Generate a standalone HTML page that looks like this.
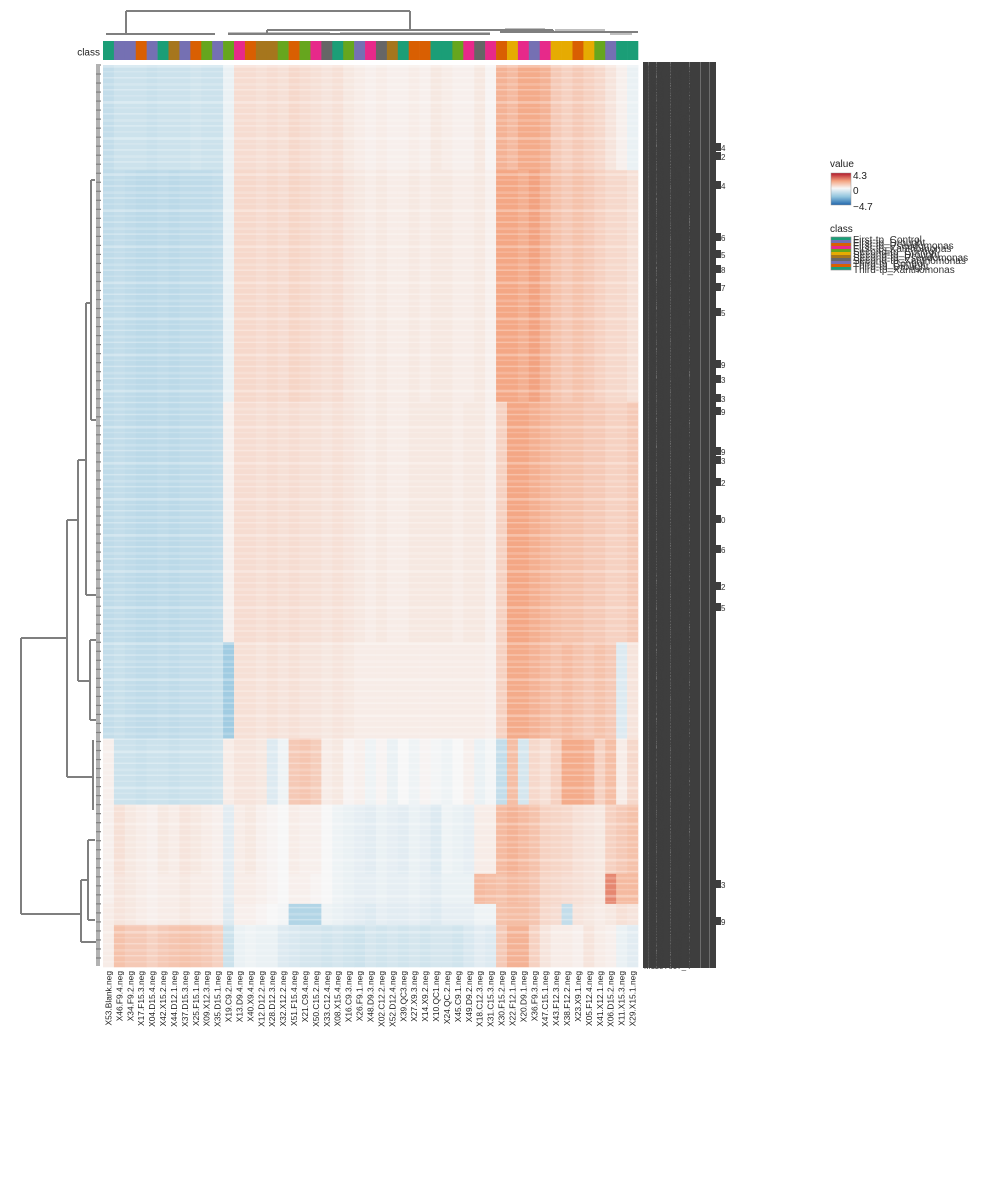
<!DOCTYPE html>
<html><head><meta charset="utf-8">
<style>
html,body{margin:0;padding:0;background:#fff;}
svg{display:block;font-family:"Liberation Sans","DejaVu Sans",sans-serif;}
</style></head>
<body>
<svg id="chart" width="1000" height="1200" viewBox="0 0 1000 1200">
  <g id="coldendro" stroke="#7f7f7f" stroke-width="2" fill="none"></g>
  <g id="rowdendro" stroke="#7f7f7f" stroke-width="2" fill="none"></g>
  <text x="100" y="55.5" font-size="10" text-anchor="end" fill="#222">class</text>
  <g id="classbar"></g>
  <g id="cells"></g>
  <g id="collabels"></g>
  <g id="rowlabels"></g>
  <g id="legend">
    <text x="830" y="167" font-size="10" fill="#222">value</text>
    <defs><linearGradient id="vg" x1="0" y1="0" x2="0" y2="1">
      <stop offset="0" stop-color="#b2182b"/><stop offset="0.25" stop-color="#f4a582"/>
      <stop offset="0.478" stop-color="#f7f7f7"/><stop offset="0.74" stop-color="#92c5de"/>
      <stop offset="1" stop-color="#2166ac"/></linearGradient></defs>
    <rect x="831" y="173" width="20" height="32" fill="url(#vg)" stroke="#999" stroke-width="0.5"/>
    <text x="853" y="179" font-size="10" fill="#222">4.3</text>
    <text x="853" y="194" font-size="10" fill="#222">0</text>
    <text x="853" y="210" font-size="10" fill="#222">−4.7</text>
    <text x="830" y="232" font-size="10" fill="#222">class</text>
    <g id="classlegend"></g>
  </g>
</svg>
<script>
const NS="http://www.w3.org/2000/svg";
// ---- data ----
const columns=["X53.Blank.neg","X46.F9.4.neg","X34.F9.2.neg","X17.F15.3.neg","X04.D15.4.neg","X42.X15.2.neg","X44.D12.1.neg","X37.D15.3.neg","X25.F15.1.neg","X09.X12.3.neg","X35.D15.1.neg","X19.C9.2.neg","X13.D9.4.neg","X40.X9.4.neg","X12.D12.2.neg","X28.D12.3.neg","X32.X12.2.neg","X51.F15.4.neg","X21.C9.4.neg","X50.C15.2.neg","X33.C12.4.neg","X08.X15.4.neg","X16.C9.3.neg","X26.F9.1.neg","X48.D9.3.neg","X02.C12.2.neg","X52.D12.4.neg","X39.QC3.neg","X27.X9.3.neg","X14.X9.2.neg","X10.QC1.neg","X24.QC.2.neg","X45.C9.1.neg","X49.D9.2.neg","X18.C12.3.neg","X31.C15.3.neg","X30.F15.2.neg","X22.F12.1.neg","X20.D9.1.neg","X36.F9.3.neg","X47.C15.1.neg","X43.F12.3.neg","X38.F12.2.neg","X23.X9.1.neg","X05.F12.4.neg","X41.X12.1.neg","X06.D15.2.neg","X11.X15.3.neg","X29.X15.1.neg"];
const classOf=["teal","purple","purple","orange","purple","teal","brown","purple","orange","green","purple","green","pink","orange","brown","brown","green","orange","green","pink","gray","teal","green","purple","pink","gray","brown","teal","orange","orange","teal","teal","green","pink","gray","pink","orange","yellow","pink","purple","pink","yellow","yellow","orange","yellow","green","purple","teal","teal"];
const classNames=["First-tp_Control","First-tp_Drought","First-tp_Pseudomonas","First-tp_Xanthomonas","Second-tp_Control","Second-tp_Drought","Second-tp_Pseudomonas","Second-tp_Xanthomonas","Third-tp_Control","Third-tp_Drought","Third-tp_Xanthomonas"];
const bandRows=[35,77,80,32,22,23,10,7,14];
const band0=[-1.2,-1,-1,-1,-1.1,-1,-1,-1,-0.9,-1,-1,-0.3, 0.7,0.7,0.6,0.7,0.6,0.8,0.7,0.6,0.5,0.6,0.4, 0.3,0.2,0.3,0.2,0.2,0.3,0.2,0.4,0.3,0.2,0.2,0.4,0.1, 1.8,1.6,2.0,2.0,1.8,1.2, 1.0,1.2,1.0,0.8,0.5,0.2,-0.3];
const band1=[-1.3,-1.2,-1.3,-1.4,-1.4,-1.3,-1.4,-1.3,-1.3,-1.3,-1.2,-0.3, 0.8,0.8,0.7,0.8,0.7,0.9,0.8,0.7,0.6,0.7,0.5, 0.4,0.3,0.4,0.3,0.3,0.4,0.3,0.4,0.4,0.3,0.3,0.4,0.2, 2.1,2.1,1.9,2.2,1.8,1.4, 1.2,1.4,1.2,1.0,0.8,0.8,0.6];
const band2=[-1.3,-1.2,-1.3,-1.4,-1.4,-1.3,-1.4,-1.3,-1.3,-1.3,-1.2,0.2, 0.7,0.7,0.6,0.7,0.6,0.7,0.6,0.6,0.5,0.6,0.5, 0.4,0.3,0.4,0.3,0.3,0.4,0.4,0.4,0.4,0.3,0.4,0.4,0.2, 1.0,2.1,2.1,1.9,1.7,1.5, 1.4,1.4,1.2,1.2,1.0,1.0,1.2];
const band3=[-1.2,-1.1,-1.2,-1.3,-1.3,-1.2,-1.3,-1.2,-1.2,-1.2,-1.1,-2.0, 0.6,0.6,0.5,0.6,0.5,0.6,0.5,0.5,0.4,0.5,0.4, 0.3,0.3,0.3,0.3,0.3,0.3,0.3,0.3,0.3,0.3,0.3,0.3,0.2, 1.0,2.0,2.0,1.8,1.6,1.4, 1.6,1.4,1.2,1.4,1.2,-0.6,0.5];
const band4=[0.2,-1.0,-1.0,-1.1,-1.0,-1.0,-1.1,-1.0,-1.0,-1.0,-0.9,0.3, 0.5,0.5,0.4,-0.6,-0.2,1.2,1.3,1.1,0.3,0.4,0.1, 0.2,-0.2,0.1,-0.3,0.0,-0.2,0.1,-0.1,-0.2,0.0,0.2,-0.3,-0.1, -1.2,1.5,-0.8,0.8,0.6,1.0, 2.0,2.0,1.8,1.0,1.5,0.3,0.8];
const band5=[0.2,0.6,0.4,0.3,0.2,0.4,0.3,0.5,0.4,0.3,0.2,-0.5, 0.3,0.4,0.2,0.1,0.0,0.3,0.2,0.2,0.0,-0.2,-0.3, -0.4,-0.5,-0.3,-0.4,-0.5,-0.3,-0.4,-0.6,-0.2,-0.3,-0.4,0.3,0.3, 1.6,1.8,1.6,1.4,1.0,0.9, 0.8,0.6,0.5,0.4,1.0,1.2,1.4];
const band6=[0.2,0.5,0.4,0.3,0.2,0.3,0.3,0.4,0.3,0.3,0.2,-0.5, 0.3,0.3,0.2,0.1,0.0,0.2,0.2,0.1,0.0,-0.2,-0.3, -0.4,-0.4,-0.3,-0.4,-0.4,-0.3,-0.4,-0.5,-0.3,-0.3,-0.3,1.6,1.5, 1.4,1.6,1.5,1.3,0.9,0.8, 0.7,0.6,0.5,0.4,2.6,1.6,1.6];
const band7=[0.3,0.5,0.4,0.3,0.2,0.3,0.3,0.4,0.3,0.3,0.2,-0.6, 0.2,0.2,0.1,0.0,-0.1,-1.6,-1.6,-1.6,-0.2,-0.3,-0.4, -0.5,-0.6,-0.4,-0.5,-0.5,-0.4,-0.5,-0.6,-0.4,-0.4,-0.4,-0.2,-0.2, 1.4,1.5,1.5,1.3,0.8,0.7, -1.2,0.5,0.4,0.3,0.4,0.6,0.5];
const band8=[0.3,1.4,1.2,1.2,1.0,1.2,1.3,1.4,1.3,1.2,1.0,-1.0, -0.3,-0.2,-0.3,-0.3,-0.6,-0.7,-0.8,-0.8,-0.9,-0.8,-0.9, -1.0,-0.8,-0.9,-0.8,-0.9,-0.8,-0.9,-0.8,-0.8,-0.9,-0.7,-0.5,-0.6, 1.2,1.8,1.8,1.0,0.5,0.3, 0.3,0.2,0.5,0.3,0.2,-0.3,-0.5];
const bands=[band0,band1,band2,band3,band4,band5,band6,band7,band8];
const vMin=-4.7, vMax=4.3;
const X0=103, X1=638, Y0=65, Y1=967;
const classColors={teal:"#1b9e77",orange:"#d95f02",purple:"#7570b3",pink:"#e7298a",green:"#66a61e",yellow:"#e6ab02",brown:"#a6761d",gray:"#666666"};
const nCols=columns.length, totalRows=bandRows.reduce((a,b)=>a+b,0);
const cw=(X1-X0)/nCols, rh=(Y1-Y0)/totalRows;
const xPos=i=>X0+i*cw, yPos=r=>Y0+r*rh;
function lerp(a,b,t){return a.map((v,i)=>Math.round(v+(b[i]-v)*t));}
function colorOf(v){
  const W=[247,247,247];
  if(v>=0){const t=Math.min(v/vMax,1);return t<0.5?lerp(W,[244,165,130],t/0.5):lerp([244,165,130],[178,24,43],(t-0.5)/0.5);}
  const t=Math.min(-v/(-vMin),1);return t<0.5?lerp(W,[146,197,222],t/0.5):lerp([146,197,222],[33,102,172],(t-0.5)/0.5);
}
const rgb=c=>`rgb(${c[0]},${c[1]},${c[2]})`;
function mk(tag,attrs,parent){const e=document.createElementNS(NS,tag);for(const k in attrs)e.setAttribute(k,attrs[k]);parent.appendChild(e);return e;}
const cells=document.getElementById("cells");
let r0=0;
bands.forEach((vals,b)=>{
  vals.forEach((v,c)=>{
    const el=mk("rect",{x:xPos(c).toFixed(2),y:yPos(r0).toFixed(2),width:(cw+0.3).toFixed(2),height:(bandRows[b]*rh+0.3).toFixed(2),fill:rgb(colorOf(v))},cells);
    
    
  });
  r0+=bandRows[b];
});
for(let r=0;r<totalRows;r+=2){
  const el=mk("rect",{x:X0,y:yPos(r).toFixed(2),width:X1-X0,height:(rh*(r%6===0?0.9:0.5)).toFixed(2),fill:"#ffffff",opacity:(r%4===0?"0.3":"0.18")},cells);
  
  
}
const cb=document.getElementById("classbar");
classOf.forEach((k,i)=>{
  const el=mk("rect",{x:xPos(i).toFixed(2),y:41,width:(cw+0.3).toFixed(2),height:19,fill:classColors[k]},cb);
  
  
});
const cl=document.getElementById("collabels");
columns.forEach((n,i)=>{
  const x=xPos(i)+cw/2+3;
  const el=mk("text",{x:0,y:0,"font-size":"8.4","text-anchor":"end",fill:"#222",transform:`translate(${x.toFixed(1)},971) rotate(-90)`},cl);
  el.textContent=n;
  
  
});
const rl=document.getElementById("rowlabels");
mk("rect",{x:643,y:62,width:73,height:906,fill:"#3e3e3e"},rl);
[648,656,670,689,700,709].forEach(x=>mk("rect",{x:x,y:62,width:0.8,height:906,fill:"#ffffff",opacity:"0.3"},rl));
for(let r=0;r<totalRows;r++){
  const el=mk("text",{x:644,y:(yPos(r)+rh+2).toFixed(1),"font-size":"8",fill:"#3e3e3e"},rl);
  el.textContent="M"+(100+((r*37)%850))+"T"+(60+((r*53)%900))+"_"+(r%4+1);
  
  
}
[[148,"4"],[157,"2"],[186,"4"],[238,"6"],[255,"5"],[270,"8"],[288,"7"],[313,"5"],[365,"9"],[380,"3"],[399,"3"],[412,"9"],[452,"9"],[461,"3"],[483,"2"],[520,"0"],[550,"6"],[587,"2"],[608,"5"],[885,"3"],[922,"9"]].forEach(([y,t])=>{
  mk("rect",{x:716,y:y-5,width:5,height:8,fill:"#3e3e3e"},rl);
  const el=mk("text",{x:721,y:y+3,"font-size":"8",fill:"#333"},rl);
  el.textContent=t;
  
  
});
function line(g,x1,y1,x2,y2){mk("line",{x1,y1,x2,y2},g);}
const cd=document.getElementById("coldendro");
line(cd,126,11,410,11);line(cd,126,11,126,34);line(cd,410,11,410,30);
line(cd,267,30,553,30);line(cd,267,30,267,34);line(cd,553,30,553,32);
line(cd,106,34,215,34);line(cd,228,34,490,34);line(cd,500,32,638,32);
const cd2=mk("g",{"stroke-width":"1"},cd);
line(cd2,228,33,330,33);line(cd2,340,33,490,33);line(cd2,505,29,545,29);line(cd2,555,30,605,30);line(cd2,610,34,632,34);
const rd=document.getElementById("rowdendro");
line(rd,21,638,21,914);line(rd,21,638,67,638);line(rd,21,914,81,914);
line(rd,67,520,67,777);line(rd,67,520,78,520);line(rd,67,777,93,777);
line(rd,78,460,78,681);line(rd,78,460,86,460);line(rd,78,681,90,681);
line(rd,86,303,86,595);line(rd,86,303,91,303);line(rd,86,595,96,595);
line(rd,91,180,91,420);line(rd,91,180,95,180);line(rd,91,420,96,420);
line(rd,90,640,90,720);line(rd,90,640,96,640);line(rd,90,720,96,720);
line(rd,81,880,81,942);line(rd,81,880,88,880);line(rd,81,942,96,942);
line(rd,88,840,88,920);line(rd,88,840,95,840);line(rd,88,920,95,920);
line(rd,93,740,93,810);
const rd2=mk("g",{"stroke-width":"1.2"},rd);
for(let r=0;r<totalRows;r+=3){line(rd2,96,yPos(r),101,yPos(r));}
line(rd2,97,66,97,966);line(rd2,99,66,99,966);
const lg=document.getElementById("classlegend");
const palette=["teal","purple","orange","pink","green","yellow","brown","gray","purple","orange","teal"];
palette.forEach((k,i)=>{
  const y=237+i*3;
  mk("rect",{x:831,y:y,width:20,height:3,fill:classColors[k]},lg);
  const el=mk("text",{x:853,y:y+6,"font-size":"10",fill:"#333"},lg);
  el.textContent=classNames[i];
  
  
});
mk("rect",{x:831,y:237,width:20,height:33,fill:"none",stroke:"#888","stroke-width":"0.6"},lg);
</script>
</body></html>
